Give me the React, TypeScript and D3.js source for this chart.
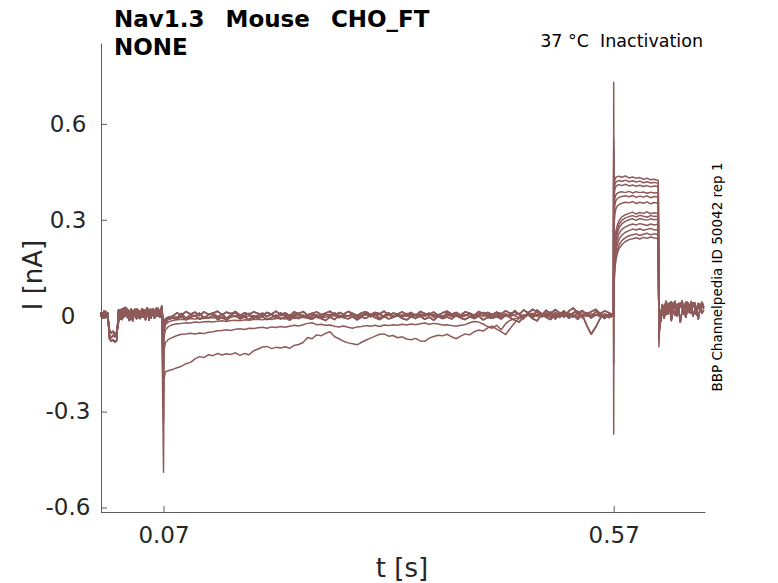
import React, { useEffect, useRef } from "react";
import * as d3 from "d3";

const W = 778;
const H = 583;
const TRACE = "#8e5a5a";
const INK = "#262626";
const FONT = "DejaVu Sans, sans-serif";

// sampling times (s)
const preTimes = d3.range(0, 0.0681, 0.002);
const spikeTime = 0.07;
const condTimes = [0.0705, 0.072, 0.075, 0.08, ...d3.range(0.085, 0.5651, 0.005)];
const testTimes = [
  0.5698, 0.57, 0.5703, 0.5708, 0.5715, 0.5725, 0.574, 0.576, 0.579, 0.583,
  0.587, 0.591, 0.595, 0.599, 0.603, 0.607, 0.611, 0.615, 0.6195,
];
const postTimes = [0.6202, 0.621, 0.6225, ...d3.range(0.624, 0.6705, 0.002)];

// currents in pA
const preNoise = [
  [6, -8, 12, -3, 9, -72, -80, -75, -83, -77, 18, -10, 14, 24, 0, 20, 8, -12, 16, 3,
    22, -6, 11, 19, -4, 14, 25, 2, 10, 21, -8, 13, 23, 6, 26],
  [-4, 9, -7, 13, 2, -46, -54, -49, -58, -51, -20, 19, -12, 8, 26, -6, 15, 10, -16, 20,
    4, 14, -9, 22, 11, -13, 7, 19, -8, 16, 10, -1, 18, -5, 30],
  [10, -2, 15, -6, 5, -63, -68, -61, -66, -59, -8, 9, 21, -3, 13, 5, -15, 22, 2, 12,
    -10, 17, 8, -5, 19, 3, 14, -14, 20, 1, 15, 24, -2, 12, 16],
];

const condPeak = [-490, -330, -240, -160, -110, -80, -60, -50, -40, -35, -30, -25, -20];

const condA = [
  -200, -176, -172, -168,
  -163, -158, -150, -146, -135, -128, -131, -122, -125, -118,
  -123, -119, -121, -116, -124, -118, -122, -110, -104, -98,
  -96, -103, -99, -101, -97, -102, -93, -90, -84, -68,
  -72, -60, -63, -55, -50, -66, -72, -80, -85, -88,
  -91, -83, -76, -70, -64, -58, -57, -64, -62, -69,
  -66, -73, -75, -71, -79, -80, -70, -65, -61, -63,
  -58, -66, -72, -64, -57, -60, -50, -45, -48, -38,
  -33, -42, -50, -59, -40, -22, -8, -4, 3, -5,
  2, -3, 6, -2, 4, -6, 8, 1, -4, 12,
  -2, 5, -8, 3, -3, 6, 0,
];
const condB = [
  -110, -85, -75, -68,
  -62, -58, -57, -55, -57, -54, -56, -52, -50, -47,
  -46, -44, -46, -42, -41, -43, -39, -40, -38, -36,
  -39, -35, -37, -34, -36, -33, -30, -32, -28, -24,
  -22, -28, -27, -30, -29, -33, -35, -32, -36, -39,
  -35, -34, -31, -33, -30, -34, -29, -31, -28, -30,
  -27, -29, -26, -28, -25, -23, -27, -24, -26, -29,
  -28, -31, -33, -30, -28, -22, -18, -20, -26, -34,
  -39, -30, -44, -25, -14, -10, -6, -2, 4, -1,
  5, -4, 2, 7, -3, 3, -5, 9, 2, -4,
  14, 3, -6, 1, 8, -2, 3,
];
const condC = [
  -70, -45, -35, -28,
  -25, -24, -22, -23, -20, -21, -19, -18, -20, -17,
  -16, -18, -15, -14, -16, -13, -14, -12, -11, -13,
  -10, -12, -9, -8, -10, -7, -9, -6, -5, -8,
  -4, -6, -3, -5, -2, 1, -3, 2, -1, 3,
  -2, 0, 4, -3, 1, 5, -1, 2, -4, 3,
  0, -2, 4, 1, -3, 2, 5, -1, 3, -2,
  1, 4, -3, 2, 0, 5, -2, 3, -1, 2,
  4, -3, 1, 6, -2, 3, 8, -4, 2, 5,
  -1, 7, 2, -5, 11, 3, -2, 6, 1, -3,
  4, 9, -2, 3, 6, -1, 2,
];
const condD = [
  -45, -28, -20, -15,
  -13, -11, -12, -9, -10, -8, -9, -6, -7, -5,
  -4, -6, -2, -3, 0, -4, -1, 1, -3, 2,
  -1, 3, -2, 0, 4, -3, 1, -1, 2, -4,
  0, 3, -2, 1, 5, -1, 2, -3, 0, 4,
  -2, 1, 3, -1, 0, 4, -3, 2, 1, -2,
  3, 0, -2, 5, 1, -1, 2, 4, -3, 0,
  2, -1, 4, 0, 3, -2, 1, 5, -1, 2,
  -3, 2, 6, -1, 4, 0, -6, 3, 1, 8,
  -2, 4, 10, -3, 2, 7, -1, 3, -4, 5,
  1, -2, 6, 3, -1, 4, 0,
];
const flatA = [
  -30, -16, -9, -5,
  -6, 7, -9, 4, -2, 8, -7, 3, 9, -4,
  5, -8, 3, 10, -5, 1, 7, -9, 2, 8,
  -3, 6, -7, 9, 0, -8, 4, 7, -5, 2,
  8, -4, -9, 5, 1, 9, -6, 3, -2, 7,
  -7, 2, 8, -3, 5, -8, 0, 9, -2, 4,
  -5, 7, 2, -9, 5, 0, 8, -4, 3, -6,
  9, -2, 5, -6, 1, 7, -8, 4, 10, -3,
  2, 8, -7, 5, -2, 16, 3, -9, 11, -5,
  18, 6, -4, 12, -10, 5, 15, -7, 9, 14,
  -6, 10, -5, 13, 3, -9, 7,
];
const flatB = [
  -45, -22, -12, -7,
  -10, -2, -13, -5, 1, -11, -4, -8, 2, -12,
  -6, -14, -3, 0, -10, -4, -13, -1, -8, -3,
  -12, -6, 2, -10, -4, -14, -2, -9, 1, -7,
  -11, -1, -8, -15, -4, -12, 0, -6, -10, -3,
  -13, -4, -8, 2, -6, -12, -2, -10, -5, 1,
  -8, -13, -3, -7, -1, -11, -4, -14, -2, -9,
  -4, -10, 1, -7, -12, -3, -9, -1, -13, -5,
  -8, -3, -10, 2, -6, -14, -20, -4, 3, -9,
  -16, 6, -5, -12, 5, -3, 10, -8, 2, -11,
  4, -30, -58, -36, -8, 3, -6,
];
const flatC = [
  -22, -10, -5, -2,
  9, 2, 13, 5, 11, 0, 12, 4, 8, 14,
  3, 11, 6, 13, 1, 9, 4, 12, 7, 2,
  10, 5, 14, 3, 9, 0, 12, 6, 13, 2,
  6, 12, 3, 8, 14, 1, 10, 5, 13, 7,
  0, 9, 12, 3, 10, 6, 14, 2, 8, 5,
  12, 3, 10, 0, 13, 7, 4, 11, 2, 9,
  14, 5, 10, 2, 12, 8, 1, 13, 6, 10,
  3, 11, 6, 15, 7, 12, 4, 18, 8, 20,
  11, 2, 17, 6, 19, 9, 1, 14, 24, 8,
  16, 4, 13, 20, 6, 15, 9,
];
const condRows = [condA, condB, condC, condD, flatA, flatB, flatC, flatA, flatB, flatC, flatA, flatB, flatC];

// test pulse (0.57 - 0.62 s), one row per sweep at testTimes
const testRows = [
  [0, -370, 60, 120, 150, 175, 195, 210, 222, 232, 238, 241, 244, 240, 245, 242, 246, 243, 241],
  [2, -150, 80, 130, 160, 185, 205, 222, 235, 244, 250, 253, 256, 251, 255, 258, 253, 256, 254],
  [-3, 200, 110, 150, 178, 200, 222, 240, 252, 261, 266, 271, 268, 272, 267, 270, 273, 268, 270],
  [4, 300, 130, 170, 195, 218, 240, 258, 270, 278, 283, 287, 284, 288, 285, 282, 287, 284, 286],
  [0, 350, 150, 190, 215, 238, 258, 275, 287, 295, 300, 303, 298, 304, 301, 299, 303, 300, 302],
  [3, 380, 165, 205, 230, 252, 270, 287, 298, 306, 310, 313, 309, 314, 311, 308, 313, 310, 312],
  [-2, 420, 180, 220, 245, 265, 283, 298, 309, 316, 320, 324, 318, 323, 320, 325, 319, 322, 320],
  [1, 450, 260, 300, 322, 335, 343, 348, 352, 355, 353, 357, 351, 355, 352, 356, 350, 354, 352],
  [5, 480, 290, 330, 350, 360, 366, 370, 373, 375, 372, 376, 370, 374, 371, 375, 369, 373, 372],
  [-1, 500, 320, 355, 370, 378, 383, 386, 388, 385, 389, 384, 388, 385, 387, 383, 386, 384, 385],
  [2, 520, 350, 385, 398, 404, 408, 410, 407, 411, 406, 409, 405, 408, 404, 407, 403, 406, 404],
  [0, 550, 370, 400, 412, 418, 421, 423, 420, 424, 419, 422, 418, 421, 416, 419, 415, 417, 414],
  [3, 730, 390, 415, 428, 433, 435, 436, 433, 437, 431, 434, 430, 432, 427, 430, 425, 427, 423],
];

const tailPeak = [-30, -35, -38, -40, -45, -48, -50, -55, -60, -65, -70, -80, -97];
const postNoise = [
  [-40, -5, 12, 30, 4, 38, 15, 44, 20, 2, 35, 12, 40, 24, 6, 42, 18, 33, 8, 40, 25, 3, 37, 15, 32, 22],
  [-28, -12, 20, -8, 25, 5, 30, -15, 18, 35, 0, 22, -20, 14, 28, -5, 20, 10, 32, -2, 16, 26, -10, 24, 8, 18],
  [-15, 10, 35, 18, 45, 22, 40, 12, 32, 45, 20, 38, 28, 46, 15, 36, 42, 24, 44, 30, 40, 18, 38, 30, 42, 28],
];

const yTicks = [-600, -300, 0, 300, 600];
const xTicks = [0.07, 0.57];

const traces = condPeak.map((peak, i) => {
  const pts: [number, number][] = [];
  preTimes.forEach((t, k) => pts.push([t, preNoise[i % 3][k]]));
  pts.push([spikeTime, peak]);
  condTimes.forEach((t, k) => {
    if (k < condRows[i].length) pts.push([t, condRows[i][k]]);
  });
  testTimes.forEach((t, k) => pts.push([t, testRows[i][k]]));
  pts.push([postTimes[0], tailPeak[i]]);
  postNoise[i % 3].forEach((v, k) => {
    if (k + 1 < postTimes.length) pts.push([postTimes[k + 1], v]);
  });
  return pts;
});

export default function App() {
  const xAxisRef = useRef<SVGGElement>(null);
  const yAxisRef = useRef<SVGGElement>(null);

  const x = d3.scaleLinear().domain([0, 0.6714]).range([100.5, 705]);
  const y = d3.scaleLinear().domain([-614, 853]).range([512, 43]);
  const line = d3
    .line<[number, number]>()
    .x((d) => x(d[0]))
    .y((d) => y(d[1]));

  useEffect(() => {
    const xa = d3
      .axisBottom(x)
      .tickValues(xTicks)
      .tickSizeInner(-6)
      .tickSizeOuter(0)
      .tickPadding(15)
      .tickFormat((d) => String(d));
    const gx = d3.select(xAxisRef.current!).call(xa as any);
    gx.select(".domain").attr("stroke", "#5e5e5e");
    gx.selectAll(".tick line").attr("stroke", "#5e5e5e");
    gx.selectAll(".tick text")
      .attr("fill", INK)
      .attr("font-size", 23)
      .attr("font-family", FONT);
    gx.attr("font-family", null).attr("font-size", null);

    const ya = d3
      .axisLeft(y)
      .tickValues(yTicks)
      .tickSizeInner(-6)
      .tickSizeOuter(0)
      .tickFormat((d) => String((d as number) / 1000));
    const gy = d3.select(yAxisRef.current!).call(ya as any);
    gy.select(".domain").attr("stroke", "#5e5e5e");
    gy.selectAll(".tick line").attr("stroke", "#5e5e5e");
    gy.selectAll(".tick text")
      .attr("fill", INK)
      .attr("font-size", 23)
      .attr("font-family", FONT)
      .attr("text-anchor", "middle")
      .attr("x", -33);
    gy.attr("font-family", null).attr("font-size", null);
  }, []);

  return (
    <svg
      width={W}
      height={H}
      style={{ position: "absolute", left: 0, top: 0, background: "#fff" }}
      fontFamily={FONT}
    >
      <g fill="none" stroke={TRACE} strokeWidth={1.5} strokeLinejoin="round">
        {traces.map((pts, i) => (
          <path key={i} d={line(pts) ?? ""} />
        ))}
      </g>
      <g ref={xAxisRef} transform="translate(0,512)" />
      <g ref={yAxisRef} transform="translate(101,0)" />

      <text
        x={114}
        y={27}
        fontWeight="bold"
        fontSize={23}
        fill="#000"
        style={{ whiteSpace: "pre", wordSpacing: 2.5 }}
      >
        {"Nav1.3  Mouse  CHO_FT"}
      </text>
      <text x={114} y={55} fontWeight="bold" fontSize={23} fill="#000">
        NONE
      </text>
      <text
        x={703}
        y={47}
        fontSize={17.5}
        textAnchor="end"
        fill="#000"
        style={{ whiteSpace: "pre" }}
      >
        {"37 °C  Inactivation"}
      </text>
      <text
        transform="translate(722,277) rotate(-90)"
        fontSize={13.5}
        textAnchor="middle"
        fill="#000"
      >
        BBP Channelpedia ID 50042 rep 1
      </text>
      <text
        transform="translate(42,275) rotate(-90)"
        fontSize={26}
        textAnchor="middle"
        fill={INK}
      >
        I [nA]
      </text>
      <text x={402} y={577} fontSize={26} textAnchor="middle" fill={INK}>
        t [s]
      </text>
    </svg>
  );
}
